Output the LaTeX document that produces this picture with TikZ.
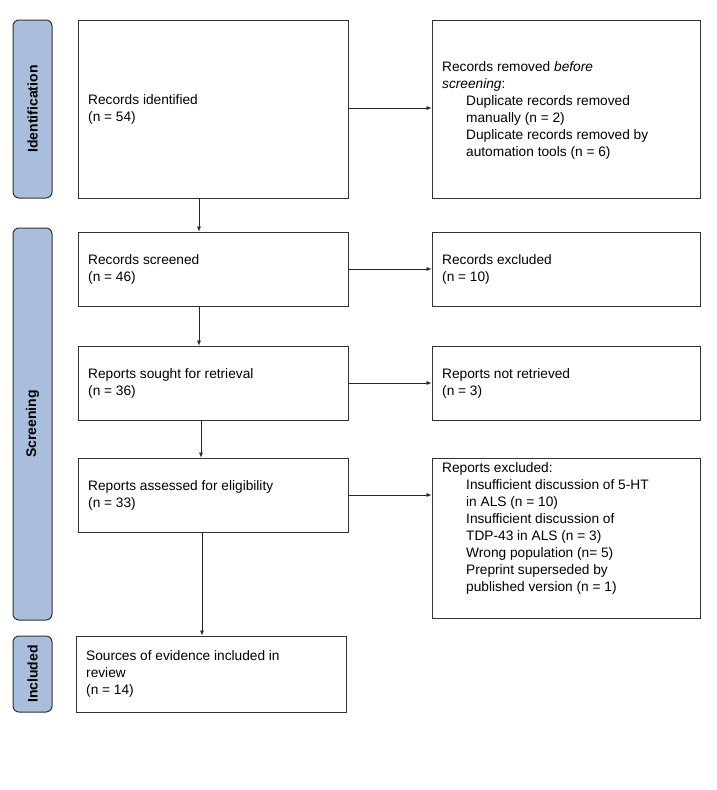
\documentclass[tikz,border=0pt]{standalone}
\usepackage{fontspec}
\setmainfont{Liberation Sans}
\usetikzlibrary{arrows.meta}
\definecolor{sidefill}{RGB}{168,190,220}
\begin{document}
\begin{tikzpicture}[x=1pt,y=-1pt,
 box/.style={draw=black!80,line width=0.9pt,fill=white},
 side/.style={draw=black!80,line width=1pt,fill=sidefill,rounded corners=6pt},
 lbl/.style={font=\fontsize{13.7}{17}\selectfont,align=left,anchor=west,inner sep=0pt},
 side label/.style={font=\bfseries\fontsize{14}{16}\selectfont,rotate=90},
 arr/.style={draw=black!85,line width=0.6pt,-{Latex[length=5pt,width=4pt]}}]
\path[fill=white] (0,0) rectangle (716,790);
\useasboundingbox (0,0) rectangle (716,790);
% sidebars
\draw[side] (13,20) rectangle (52,198);
\node[side label] (sid) at (32.5,109) {Identification};
\draw[side] (13,228) rectangle (52,620);
\node[side label] (ssc) at (32.5,424) {Screening};
\draw[side] (13,636) rectangle (52,712);
\node[side label] (sin) at (32.5,674) {Included};
% boxes
\node[box,minimum width=270pt,minimum height=178pt] (b1) at (213,109) {};
\node[lbl] at (88,109) {Records identified\\(n = 54)};
\node[box,minimum width=268pt,minimum height=178pt] (r1) at (566,109) {};
\node[lbl] at (442,110) {Records removed \textit{before}\\\textit{screening}:\\
\hspace*{24pt}Duplicate records removed\\\hspace*{24pt}manually (n = 2)\\\hspace*{24pt}Duplicate records removed by\\\hspace*{24pt}automation tools (n = 6)};

\node[box,minimum width=270pt,minimum height=74pt] (b2) at (213,269) {};
\node[lbl] at (88,269) {Records screened\\(n = 46)};
\node[box,minimum width=268pt,minimum height=74pt] (r2) at (566,269) {};
\node[lbl] at (442,269) {Records excluded\\(n = 10)};

\node[box,minimum width=270pt,minimum height=74pt] (b3) at (213,383) {};
\node[lbl] at (88,383) {Reports sought for retrieval\\(n = 36)};
\node[box,minimum width=268pt,minimum height=74pt] (r3) at (566,383) {};
\node[lbl] at (442,383) {Reports not retrieved\\(n = 3)};

\node[box,minimum width=270pt,minimum height=74pt] (b4) at (213,495) {};
\node[lbl] at (88,495) {Reports assessed for eligibility\\(n = 33)};
\node[box,minimum width=268pt,minimum height=160pt] (r4) at (566,538) {};
\node[lbl,anchor=north west] at (442,462) {Reports excluded:\\
\hspace*{24pt}Insufficient discussion of 5-HT\\\hspace*{24pt}in ALS (n = 10)\\\hspace*{24pt}Insufficient discussion of\\\hspace*{24pt}TDP-43 in ALS (n = 3)\\\hspace*{24pt}Wrong population (n= 5)\\\hspace*{24pt}Preprint superseded by\\\hspace*{24pt}published version (n = 1)};

\node[box,minimum width=270pt,minimum height=76pt] (b5) at (211,674) {};
\node[lbl] at (86,674) {Sources of evidence included in\\review\\(n = 14)};
% arrows
\draw[arr] (b1.east |- 0,108) -- (r1.west |- 0,108);
\draw[arr] (b2.east) -- (r2.west);
\draw[arr] (b3.east) -- (r3.west);
\draw[arr] (b4.east) -- (r4.west |- b4.east);
\draw[arr] (b1.south -| 199,0) -- (b2.north -| 199,0);
\draw[arr] (b2.south -| 199,0) -- (b3.north -| 199,0);
\draw[arr] (b3.south -| 201,0) -- (b4.north -| 201,0);
\draw[arr] (b4.south -| 202,0) -- (b5.north -| 202,0);
\end{tikzpicture}
\end{document}
